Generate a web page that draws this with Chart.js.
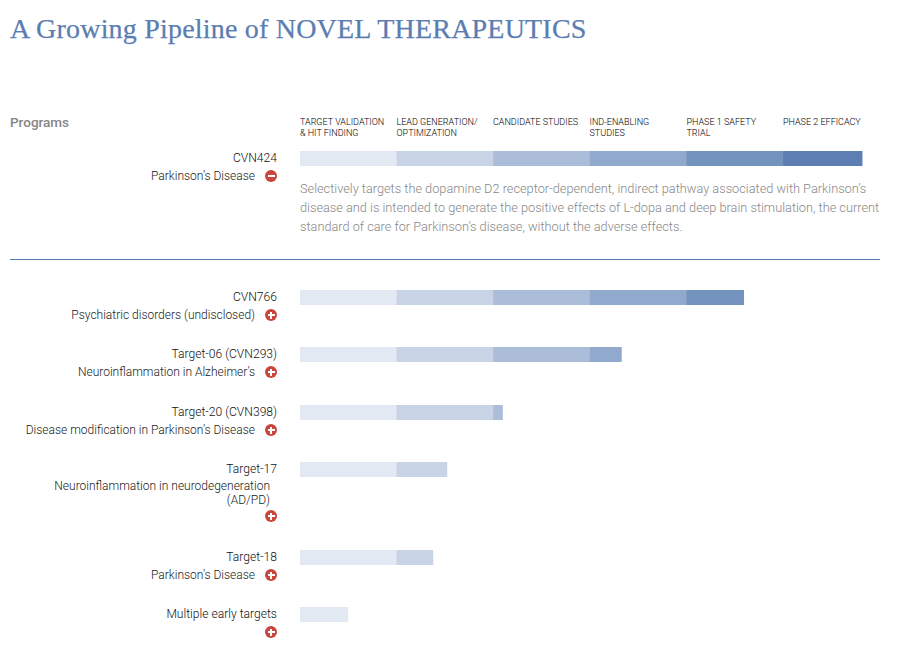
<!DOCTYPE html>
<html>
<head>
<meta charset="utf-8">
<title>A Growing Pipeline of Novel Therapeutics</title>
<script src="https://cdn.jsdelivr.net/npm/chart.js@4"></script>
<style>
    html, body { margin: 0; background: #fff; }
    body { position: relative; width: 918px; height: 654px; overflow: hidden; font-family: Roboto, sans-serif; font-weight: 300; color: #222; }
    h1 { position: absolute; left: 10px; top: 11px; margin: 0; font: 400 28px/36px "Liberation Serif", serif; letter-spacing: 0.2px; -webkit-text-stroke: 0.25px #5b7db1; color: #5b7db1; white-space: nowrap; }
    .programs { position: absolute; left: 10px; top: 114px; font-size: 13.5px; line-height: 16px; font-weight: 500; color: #858585; }
    .stage { position: absolute; top: 117px; width: 92px; font-size: 9px; line-height: 11px; color: #000; }
    .row { position: absolute; left: 0; width: 880px; }
    .name { position: absolute; right: 603px; top: 0; font-size: 12.1px; line-height: 14px; color: #111; white-space: nowrap; }
    .indication { position: absolute; right: 625px; top: 18px; font-size: 12px; line-height: 14px; white-space: nowrap; text-align: right; }
    .indication.wrapped { right: 610px; top: 17px; }
    .icon { position: absolute; left: 265px; top: 19px; width: 12px; height: 12px; border-radius: 50%; background: #c9463d; }
    .icon::before, .plus::after { content: ""; position: absolute; background: #fff; left: 2.5px; top: 5px; width: 7px; height: 2px; }
    .plus::after { left: 5px; top: 2.5px; width: 2px; height: 7px; }
    .bar { position: absolute; left: 300px; top: 0; width: 580px; height: 15px; }
    .note { position: absolute; left: 300px; top: 179px; width: 590px; font-size: 12.75px; line-height: 19px; color: #888; white-space: nowrap; }
    .rule { position: absolute; left: 10px; top: 259px; width: 870px; height: 1px; background: #5b7db1; }
</style>
</head>
<body>
<h1>A Growing Pipeline of NOVEL THERAPEUTICS</h1>
<div class="programs">Programs</div>
<div class="note">Selectively targets the dopamine D2 receptor-dependent, indirect pathway associated with Parkinson’s<br>disease and is intended to generate the positive effects of L-dopa and deep brain stimulation, the current<br>standard of care for Parkinson’s disease, without the adverse effects.</div>
<div class="rule"></div>
<div id="rows"></div>

<script>
const stages = ["TARGET VALIDATION<br>& HIT FINDING", "LEAD GENERATION/<br>OPTIMIZATION", "CANDIDATE STUDIES", "IND-ENABLING<br>STUDIES", "PHASE 1 SAFETY<br>TRIAL", "PHASE 2 EFFICACY"];
const programs = ["CVN424", "CVN766", "Target-06 (CVN293)", "Target-20 (CVN398)", "Target-17", "Target-18", "Multiple early targets"];
const indications = ["Parkinson’s Disease", "Psychiatric disorders (undisclosed)", "Neuroinflammation in Alzheimer’s", "Disease modification in Parkinson’s Disease", "Neuroinflammation in neurodegeneration<br>(AD/PD)", "Parkinson’s Disease", ""];

// how far each program got through each stage (1 = stage finished, null = not reached)
const targetValidation = [0.995, 0.995, 0.995, 0.995, 0.995, 0.995, 0.495];
const leadGeneration = [1, 1, 1, 1, 0.525, 0.38, null];
const candidateStudies = [1, 1, 1, 0.1, null, null, null];
const indEnabling = [1, 1, 0.33, null, null, null, null];
const phase1 = [1, 0.595, null, null, null, null, null];
const phase2 = [0.82, null, null, null, null, null, null];

const stageSeries = [targetValidation, leadGeneration, candidateStudies, indEnabling, phase1, phase2];
const stageColors = ["#e3e9f2", "#c8d4e5", "#abbdd8", "#91a9cd", "#7593bf", "#5c7eb2"];

// page layout
const rowTops = [151, 290, 347, 405, 462, 550, 607];
const stageLefts = [300, 396.5, 493, 589.5, 686.5, 783];

stages.forEach((s, i) => {
    const el = document.createElement("div");
    el.className = "stage";
    el.style.left = stageLefts[i] + "px";
    el.innerHTML = s;
    document.body.appendChild(el);
});

function addRow(i) {
    const row = document.createElement("div");
    row.className = "row";
    row.style.top = rowTops[i] + "px";

    const name = document.createElement("div");
    name.className = "name";
    name.textContent = programs[i];
    row.appendChild(name);

    const wrapped = indications[i].includes("<br>");
    if (indications[i]) {
        const ind = document.createElement("div");
        ind.className = wrapped ? "indication wrapped" : "indication";
        ind.innerHTML = indications[i];
        row.appendChild(ind);
    }

    const icon = document.createElement("div");
    icon.className = i === 0 ? "icon" : "icon plus";
    if (wrapped) icon.style.top = "48px";
    row.appendChild(icon);

    const box = document.createElement("div");
    box.className = "bar";
    const canvas = document.createElement("canvas");
    box.appendChild(canvas);
    row.appendChild(box);
    document.getElementById("rows").appendChild(row);

    new Chart(canvas, {
        type: "bar",
        data: {
            labels: [programs[i]],
            datasets: stageSeries.map((series, k) => ({
                label: stages[k].replace("<br>", " "),
                data: [series[i]],
                backgroundColor: stageColors[k],
                borderWidth: 0,
                barPercentage: 1,
                categoryPercentage: 1
            }))
        },
        options: {
            indexAxis: "y",
            responsive: true,
            maintainAspectRatio: false,
            animation: false,
            layout: { padding: 0 },
            plugins: { legend: { display: false }, tooltip: { enabled: false } },
            scales: {
                x: { stacked: true, display: false, min: 0, max: 6 },
                y: { stacked: true, display: false }
            }
        }
    });
}

programs.forEach((p, i) => addRow(i));
</script>
</body>
</html>
